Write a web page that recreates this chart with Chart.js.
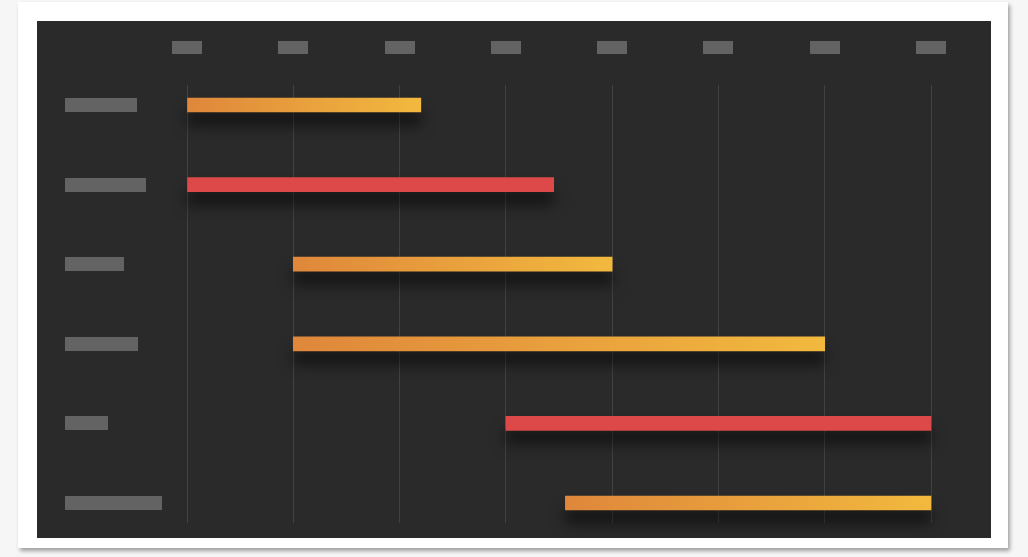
<!DOCTYPE html>
<html>
<head>
<meta charset="utf-8">
<script src="https://cdn.jsdelivr.net/npm/chart.js@4/dist/chart.umd.min.js"></script>
<style>
  html, body { margin: 0; padding: 0; background: #f6f6f6; }
  #card {
    position: absolute; left: 18px; top: 2px; width: 990px; height: 546px;
    background: #ffffff;
    box-shadow: 2px 3px 4px rgba(0, 0, 0, 0.35);
  }
  #panel {
    position: absolute; left: 37px; top: 21px; width: 954px; height: 517px;
    background: #2a2a2a;
  }
</style>
</head>
<body>
<div id="card"></div>
<div id="panel"><canvas id="gantt"></canvas></div>
<script>
// Gantt rows (top to bottom), start/end in axis units
const tasks = ['Task A', 'Task B', 'Task C', 'Task D', 'Task E', 'Task F'];
const starts = [0, 0, 1, 1, 3, 3.56];
const ends = [2.2, 3.45, 4, 6, 7, 7];
const kinds = ['warm', 'hot', 'warm', 'warm', 'hot', 'warm'];
const axisTicks = [0, 1, 2, 3, 4, 5, 6, 7];

// label placeholder widths (the reference shows grey blocks instead of text)
const labelWidths = [72, 81, 59, 73, 43, 97];

function barColor(ctx) {
  const chart = ctx.chart;
  const i = ctx.dataIndex;
  if (kinds[i] === 'hot') return '#dd4848';
  if (!chart.chartArea || !chart.scales.x) return '#e9a03c';
  const x0 = chart.scales.x.getPixelForValue(starts[i]);
  const x1 = chart.scales.x.getPixelForValue(ends[i]);
  const g = chart.ctx.createLinearGradient(x0, 0, x1, 0);
  g.addColorStop(0, '#df873b');
  g.addColorStop(1, '#f2b93e');
  return g;
}

const placeholders = {
  id: 'placeholders',
  beforeDatasetsDraw(chart) {
    const { ctx, scales } = chart;
    ctx.save();
    ctx.fillStyle = '#636363';
    axisTicks.forEach((t) => {
      const x = scales.x.getPixelForValue(t);
      ctx.fillRect(Math.round(x - 15), 20, 30, 13);
    });
    tasks.forEach((t, i) => {
      const y = scales.y.getPixelForValue(i);
      ctx.fillRect(28, Math.round(y - 7), labelWidths[i], 14);
    });
    ctx.restore();
  },
  beforeDatasetDraw(chart) {
    const ctx = chart.ctx;
    ctx.save();
    ctx.shadowColor = 'rgba(0, 0, 0, 0.55)';
    ctx.shadowBlur = 14;
    ctx.shadowOffsetY = 13;
  },
  afterDatasetDraw(chart) {
    chart.ctx.restore();
  }
};

new Chart(document.getElementById('gantt'), {
  type: 'bar',
  data: {
    labels: tasks,
    datasets: [{
      data: starts.map((s, i) => [s, ends[i]]),
      backgroundColor: barColor,
      borderWidth: 0,
      borderSkipped: false,
      barThickness: 14,
      clip: false
    }]
  },
  options: {
    indexAxis: 'y',
    responsive: true,
    maintainAspectRatio: false,
    animation: false,
    layout: { padding: { left: 150, right: 60, top: 64, bottom: 15 } },
    plugins: {
      legend: { display: false },
      tooltip: { enabled: false }
    },
    scales: {
      x: {
        type: 'linear',
        position: 'top',
        min: 0,
        max: 7,
        ticks: { display: false, stepSize: 1 },
        grid: { color: '#414141', lineWidth: 1, drawTicks: true, tickLength: 20 },
        border: { display: false },
        afterFit(s) { s.height = 20; }
      },
      x2: {
        type: 'linear',
        position: 'bottom',
        min: 0,
        max: 7,
        ticks: { display: false, stepSize: 1 },
        grid: { color: '#414141', lineWidth: 1, drawOnChartArea: false, drawTicks: true, tickLength: 20 },
        border: { display: false },
        afterFit(s) { s.height = 20; }
      },
      y: {
        type: 'category',
        offset: false,
        display: false
      }
    }
  },
  plugins: [placeholders]
});
</script>
</body>
</html>
